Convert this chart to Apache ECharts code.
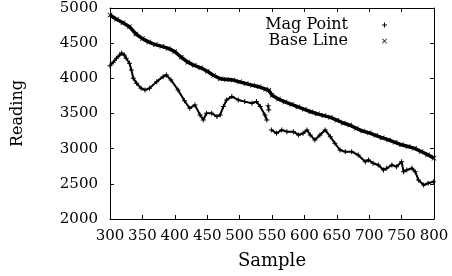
<!DOCTYPE html>
<html>
<head>
<meta charset="utf-8">
<script src="https://cdn.jsdelivr.net/npm/echarts@6/dist/echarts.min.js"></script>
<style>
  html, body { margin: 0; padding: 0; background: #fff; }
  #chart { width: 452px; height: 276px; }
</style>
</head>
<body>
<div id="chart"></div>
<script>
// Mag Point (noisy, + markers); '-' marks a gap in the trace
var magSample = [300, 305, 310, 315, 318, 322, 325, 330, 333, 336, 341, 348, 354, 361, 372, 382, 387, 394, 405, 415,
  423, 431, 439, 444, 449, 457, 465, 470, 475, 480, 488, 498, 508, 519, 526, 532, 539, 542, 543, 544, 545, 546,
  549, 557, 565, 573, 583, 591, 598, 604, 609, 616, 624, 632, 640, 647, 655, 663, 673, 683, 694, 699, 706, 714,
  722, 727, 735, 742, 750, 753, 758, 766, 771, 776, 784, 791, 799];
var magValue = [4180, 4230, 4285, 4330, 4360, 4330, 4285, 4214, 4120, 4000, 3930, 3859, 3835, 3859, 3953, 4024, 4048, 3977, 3835, 3680,
  3575, 3622, 3480, 3409, 3504, 3504, 3456, 3480, 3598, 3693, 3740, 3693, 3669, 3646, 3669, 3598, 3480, 3409, '-', 3610, 3550, '-',
  3266, 3219, 3266, 3242, 3242, 3195, 3219, 3266, 3195, 3124, 3195, 3266, 3171, 3077, 2981, 2957, 2957, 2910, 2815, 2839, 2792, 2768,
  2697, 2721, 2768, 2744, 2815, 2673, 2697, 2721, 2673, 2555, 2484, 2508, 2531];

// Base Line (smooth, x markers)
var baseSample = [300, 310, 320, 330, 340, 350, 360, 370, 380, 390, 400, 410, 420, 430, 440, 450, 460, 470, 480, 490,
  500, 510, 520, 530, 540, 545, 550, 560, 570, 580, 590, 600, 610, 620, 630, 640, 650, 660, 670, 680,
  690, 700, 710, 720, 730, 740, 750, 760, 770, 780, 790, 800];
var baseValue = [4900, 4840, 4790, 4735, 4630, 4565, 4515, 4480, 4455, 4425, 4380, 4300, 4230, 4185, 4150, 4100, 4040, 3995, 3985, 3975,
  3950, 3925, 3900, 3880, 3845, 3830, 3760, 3705, 3665, 3630, 3595, 3560, 3525, 3495, 3470, 3445, 3405, 3365, 3335, 3290,
  3250, 3225, 3190, 3155, 3125, 3090, 3055, 3030, 3005, 2960, 2915, 2865];

var font = 'DejaVu Serif';
var plusPath = 'path://M4,0H6V4H10V6H6V10H4V6H0V4H4Z';
var crossPath = 'path://M1,0L5,4L9,0L10,1L6,5L10,9L9,10L5,6L1,10L0,9L4,5L0,1Z';

function pairs(xs, ys) {
  return xs.map(function (x, i) { return [x, ys[i]]; });
}

var chart = echarts.init(document.getElementById('chart'), null, { renderer: 'canvas' });

var axisCommon = {
  axisLine: { show: true, lineStyle: { color: '#000', width: 1 } },
  axisTick: { show: true, inside: true, length: 4, lineStyle: { color: '#000' } },
  splitLine: { show: false }
};

chart.setOption({
  animation: false,
  grid: { left: 110, right: 18, top: 8, bottom: 57, containLabel: false },
  legend: [{
    data: [{ name: 'Mag Point', icon: plusPath }],
    right: 60, top: 12, align: 'right',
    itemWidth: 5, itemHeight: 5,
    textStyle: { fontFamily: font, fontSize: 16, color: '#000', padding: [0, 29, 0, 0] }
  }, {
    data: [{ name: 'Base Line', icon: crossPath }],
    right: 60, top: 28, align: 'right',
    itemWidth: 5, itemHeight: 5,
    textStyle: { fontFamily: font, fontSize: 16, color: '#000', padding: [0, 29, 0, 0] }
  }],
  xAxis: [Object.assign({
    type: 'value', min: 300, max: 800, interval: 50,
    name: 'Sample', nameLocation: 'middle', nameGap: 33,
    nameTextStyle: { fontFamily: font, fontSize: 18, color: '#000' },
    axisLabel: { fontFamily: font, fontSize: 15, color: '#000', margin: 10, showMinLabel: true, showMaxLabel: true }
  }, axisCommon), Object.assign({
    type: 'value', min: 300, max: 800, interval: 50, position: 'top',
    axisLabel: { show: false }
  }, axisCommon)],
  yAxis: [Object.assign({
    type: 'value', min: 2000, max: 5000, interval: 500,
    name: 'Reading', nameLocation: 'middle', nameGap: 84,
    nameTextStyle: { fontFamily: font, fontSize: 16, color: '#000' },
    axisLabel: { fontFamily: font, fontSize: 15, color: '#000', margin: 12,
      formatter: function (v) { return String(v); } }
  }, axisCommon), Object.assign({
    type: 'value', min: 2000, max: 5000, interval: 500, position: 'right',
    axisLabel: { show: false }
  }, axisCommon)],
  series: [{
    name: 'Mag Point', type: 'line',
    data: pairs(magSample, magValue),
    symbol: plusPath, symbolSize: 5, showSymbol: true,
    itemStyle: { color: '#000' },
    lineStyle: { color: '#000', width: 2 }
  }, {
    name: 'Base Line', type: 'line',
    data: pairs(baseSample, baseValue),
    symbol: crossPath, symbolSize: 5, showSymbol: true,
    itemStyle: { color: '#000' },
    lineStyle: { color: '#000', width: 3.5 }
  }]
});
</script>
</body>
</html>
